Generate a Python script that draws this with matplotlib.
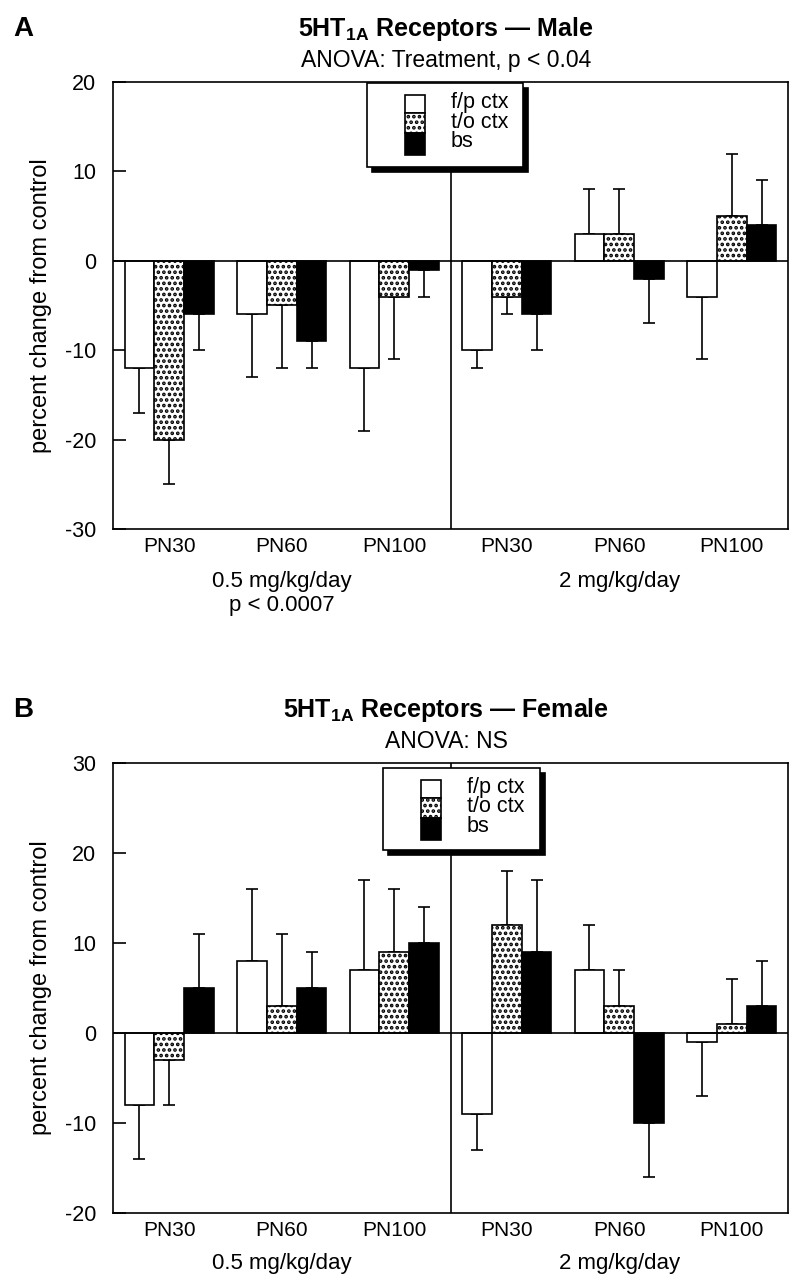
import numpy as np
import matplotlib.pyplot as plt
from matplotlib.patches import Rectangle

plt.rcParams['font.family'] = ['Liberation Sans', 'DejaVu Sans']
plt.rcParams['mathtext.fontset'] = 'custom'
plt.rcParams['mathtext.rm'] = 'Liberation Sans'
plt.rcParams['mathtext.bf'] = 'Liberation Sans:bold'
plt.rcParams['hatch.linewidth'] = 1.8
plt.rcParams['axes.unicode_minus'] = False

regions = ['f/p ctx', 't/o ctx', 'bs']
ages = ['PN30', 'PN60', 'PN100', 'PN30', 'PN60', 'PN100']
doses = ['0.5 mg/kg/day', '2 mg/kg/day']

# male, percent change from control (0.5 mg x3 ages, then 2 mg x3 ages)
male_fp = [-12, -6, -12, -10, 3, -4]
male_to = [-20, -5, -4, -4, 3, 5]
male_bs = [-6, -9, -1, -6, -2, 4]
male_fp_sem = [5, 7, 7, 2, 5, 7]
male_to_sem = [5, 7, 7, 2, 5, 7]
male_bs_sem = [4, 3, 3, 4, 5, 5]

# female
female_fp = [-8, 8, 7, -9, 7, -1]
female_to = [-3, 3, 9, 12, 3, 1]
female_bs = [5, 5, 10, 9, -10, 3]
female_fp_sem = [6, 8, 10, 4, 5, 6]
female_to_sem = [5, 8, 7, 6, 4, 5]
female_bs_sem = [6, 4, 4, 8, 6, 5]

fills = ['white', 'white', 'black']
hatches = [None, '...', None]

W, H = 800, 1286
fig = plt.figure(figsize=(8, 12.86), dpi=100)


def fx(x):
    return x / W


def fy(y):
    return 1 - y / H


def panel(top, bottom, vals, sems, ylim, letter, title, subtitle, box, dose_y, extra=None):
    ax = fig.add_axes([fx(113), fy(bottom), fx(788) - fx(113), (bottom - top) / H])
    x = np.arange(len(ages))
    w = 0.265
    for i in range(3):
        v = np.array(vals[i])
        s = np.array(sems[i])
        lo = np.where(v < 0, s, 0)
        hi = np.where(v > 0, s, 0)
        ax.errorbar(x + (i - 1) * w, v, yerr=[lo, hi], fmt='none', ecolor='black',
                    elinewidth=1.2, capsize=4, capthick=1.2, zorder=1)
        ax.bar(x + (i - 1) * w, v, w, color=fills[i], edgecolor='black',
               hatch=hatches[i], linewidth=1.2, zorder=2)
    ax.axhline(0, color='black', lw=1.2, zorder=3)
    ax.axvline(2.5, color='black', lw=1.2, zorder=3)
    ax.set_xlim(-0.5, 5.5)
    ax.set_ylim(*ylim)
    ax.set_yticks(np.arange(ylim[0], ylim[1] + 1, 10))
    ax.set_xticks(x)
    ax.set_xticklabels(ages)
    ax.tick_params(axis='y', direction='in', length=9, width=1.2, labelsize=15.5, pad=12)
    ax.tick_params(axis='x', length=0, labelsize=15, pad=6)
    for sp in ax.spines.values():
        sp.set_linewidth(1.2)
    ax.set_ylabel('percent change from control', fontsize=17)
    ax.yaxis.set_label_coords(-0.09, 0.5)

    fig.text(fx(13), fy(top - 53), letter, fontsize=20, fontweight='bold', va='center', ha='left')
    fig.text(fx(446), fy(top - 53), title, fontsize=18, fontweight='bold', va='center', ha='center')
    fig.text(fx(446), fy(top - 22), subtitle, fontsize=16.5, va='center', ha='center')

    # dose labels under each half
    tr = ax.get_xaxis_transform()
    for k, d in enumerate(doses):
        ax.text(1 + 3 * k, (bottom - dose_y) / (bottom - top), d,
                transform=tr, fontsize=16, ha='center', va='center')
    if extra:
        ax.text(1, (bottom - dose_y - 23) / (bottom - top), extra, transform=tr,
                fontsize=16, ha='center', va='center')

    # legend box with drop shadow
    bx0, by0, bx1, by1 = box
    fig.add_artist(Rectangle((fx(bx0 + 5), fy(by1 + 5)), fx(bx1 - bx0), (by1 - by0) / H,
                             transform=fig.transFigure, facecolor='black', edgecolor='black',
                             lw=1.2, zorder=5))
    fig.add_artist(Rectangle((fx(bx0), fy(by1)), fx(bx1 - bx0), (by1 - by0) / H,
                             transform=fig.transFigure, facecolor='white', edgecolor='black',
                             lw=1.2, zorder=6))
    seg = [(12, 30), (30, 50), (50, 72)]
    for i in range(3):
        s0, s1 = seg[i]
        fig.add_artist(Rectangle((fx(bx0 + 38), fy(by0 + s1)), fx(20), (s1 - s0) / H,
                                 transform=fig.transFigure, facecolor=fills[i],
                                 edgecolor='black', hatch=hatches[i], lw=1.2, zorder=7))
    fig.text(fx(bx0 + 84), fy(by0 + 39), '\n'.join(regions), fontsize=15.5,
             linespacing=0.88, ha='left', va='center', zorder=8)
    return ax


panel(82, 529, [male_fp, male_to, male_bs], [male_fp_sem, male_to_sem, male_bs_sem],
      (-30, 20), 'A', r'5HT$_{\mathbf{1A}}$ Receptors — Male', 'ANOVA: Treatment, p < 0.04',
      (367, 83, 523, 167), 582, extra='p < 0.0007')

panel(763, 1213, [female_fp, female_to, female_bs], [female_fp_sem, female_to_sem, female_bs_sem],
      (-20, 30), 'B', r'5HT$_{\mathbf{1A}}$ Receptors — Female', 'ANOVA: NS',
      (383, 768, 540, 850), 1264)

fig.savefig('out.png', dpi=100)
plt.close(fig)
